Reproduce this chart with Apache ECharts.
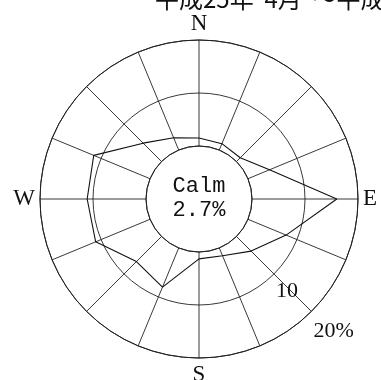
<!DOCTYPE html>
<html>
<head>
<meta charset="utf-8">
<style>
  html, body { margin: 0; padding: 0; background: #fff; }
  #chart { width: 381px; height: 380px; }
</style>
<script src="https://cdn.jsdelivr.net/npm/echarts@6/dist/echarts.min.js"></script>
</head>
<body>
<div id="chart"></div>
<script>
// Wind rose: frequency (%) of wind from each of 16 directions, clockwise from north
const directions = ['N', 'NNE', 'NE', 'ENE', 'E', 'ESE', 'SE', 'SSE',
                    'S', 'SSW', 'SW', 'WSW', 'W', 'WNW', 'NW', 'NNW'];
const frequency = [1.5, 1.3, 1.0, 4.4, 16.0, 7.8, 3.9, 1.6,
                   1.3, 8.0, 6.7, 11.1, 11.1, 11.5, 4.9, 2.5];
const calmPercent = 2.7;
const compassLabels = { N: 'N', E: 'E', S: 'S', W: 'W' };
const ringTicks = [10, 20];
const ringLabels = ['10', '20%'];
const periodTitle = '平成25年  4月  ～平成26年  3月';

const step = 360 / directions.length;
// closed polygon: repeat the first direction at 360°
const roseData = frequency.map((v, i) => [v, i * step]);
roseData.push([frequency[0], 360]);

const CX = 199, CY = 199;
const ink = '#222';

const chart = echarts.init(document.getElementById('chart'), null, { renderer: 'canvas' });

chart.setOption({
  animation: false,
  backgroundColor: '#fff',
  title: {
    text: periodTitle,
    left: 155,
    top: -13,
    padding: 0,
    textStyle: {
      fontFamily: '"Noto Sans CJK JP"',
      fontSize: 24,
      fontWeight: 'normal',
      color: '#111'
    }
  },
  polar: {
    center: [CX, CY],
    radius: [53, 159]
  },
  angleAxis: {
    type: 'value',
    min: 0,
    max: 360,
    interval: step,
    startAngle: 90,
    clockwise: true,
    axisLine: { show: true, lineStyle: { color: ink, width: 1 } },
    axisTick: { show: false },
    splitLine: { show: true, lineStyle: { color: ink, width: 0.9 } },
    axisLabel: {
      show: true,
      margin: 5,
      fontFamily: '"Liberation Serif", serif',
      fontSize: 23,
      color: '#111',
      formatter: function (val) {
        if (val >= 360) return '';
        const name = directions[Math.round(val / step)];
        return compassLabels[name] || '';
      }
    }
  },
  radiusAxis: {
    type: 'value',
    min: 0,
    max: 20,
    interval: 10,
    axisLine: { show: false },
    axisTick: { show: false },
    axisLabel: { show: false },
    splitLine: { show: true, lineStyle: { color: ink, width: 0.9, type: 'solid' } }
  },
  series: [{
    type: 'line',
    coordinateSystem: 'polar',
    data: roseData,
    symbol: 'none',
    lineStyle: { color: '#111', width: 1.1 },
    z: 5
  }]
});

// ring value labels along the SE spoke, and the calm percentage in the centre
const seAngle = directions.indexOf('SE') * step;
const graphics = ringTicks.map((r, i) => {
  const p = chart.convertToPixel({ polarIndex: 0 }, [r, seAngle]);
  return {
    type: 'text',
    x: p[0] + 2,
    y: p[1] + 6 + i * 3,
    style: {
      text: ringLabels[i],
      font: '22px "Liberation Serif", serif',
      fill: '#111',
      textAlign: 'left',
      textVerticalAlign: 'top'
    }
  };
});
graphics.push({
  type: 'text',
  x: CX,
  y: CY - 1,
  style: {
    text: 'Calm\n' + calmPercent.toFixed(1) + '%',
    font: '22px "Liberation Mono", monospace',
    lineHeight: 24,
    fill: '#111',
    textAlign: 'center',
    textVerticalAlign: 'middle'
  }
});
chart.setOption({ graphic: graphics });
</script>
</body>
</html>
